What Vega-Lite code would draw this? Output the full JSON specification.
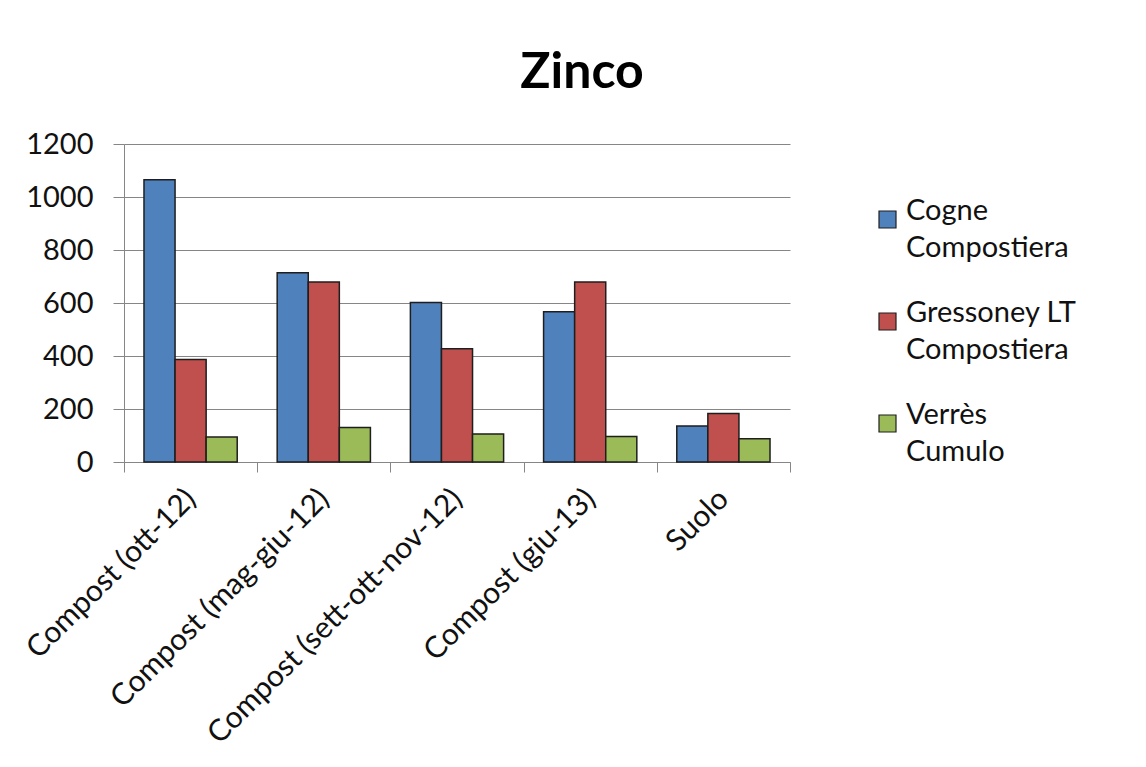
{
  "$schema": "https://vega.github.io/schema/vega-lite/v6.json",
  "autosize": {"type": "none"},
  "padding": {"left": 124, "top": 144, "right": 356, "bottom": 305},
  "width": 666,
  "height": 318,
  "background": "white",
  "title": {
    "text": "Zinco",
    "font": "Lato",
    "fontSize": 50,
    "fontWeight": "bold",
    "color": "#000000",
    "anchor": "middle",
    "dx": 125,
    "offset": -8,
    "baseline": "alphabetic"
  },
  "data": {
    "values": [
      {"campione": "Compost (ott-12)", "serie": "Cogne Compostiera", "valore": 1065},
      {"campione": "Compost (ott-12)", "serie": "Gressoney LT Compostiera", "valore": 387},
      {"campione": "Compost (ott-12)", "serie": "Verrès Cumulo", "valore": 94},
      {"campione": "Compost (mag-giu-12)", "serie": "Cogne Compostiera", "valore": 714},
      {"campione": "Compost (mag-giu-12)", "serie": "Gressoney LT Compostiera", "valore": 679},
      {"campione": "Compost (mag-giu-12)", "serie": "Verrès Cumulo", "valore": 130},
      {"campione": "Compost (sett-ott-nov-12)", "serie": "Cogne Compostiera", "valore": 602},
      {"campione": "Compost (sett-ott-nov-12)", "serie": "Gressoney LT Compostiera", "valore": 427},
      {"campione": "Compost (sett-ott-nov-12)", "serie": "Verrès Cumulo", "valore": 106},
      {"campione": "Compost (giu-13)", "serie": "Cogne Compostiera", "valore": 567},
      {"campione": "Compost (giu-13)", "serie": "Gressoney LT Compostiera", "valore": 679},
      {"campione": "Compost (giu-13)", "serie": "Verrès Cumulo", "valore": 96},
      {"campione": "Suolo", "serie": "Cogne Compostiera", "valore": 136},
      {"campione": "Suolo", "serie": "Gressoney LT Compostiera", "valore": 183},
      {"campione": "Suolo", "serie": "Verrès Cumulo", "valore": 88}
    ]
  },
  "mark": {"type": "bar", "stroke": "#1e1e1e", "strokeWidth": 1.5},
  "encoding": {
    "x": {
      "field": "campione",
      "type": "nominal",
      "sort": null,
      "scale": {"paddingInner": 0, "paddingOuter": 0},
      "axis": {
        "title": null,
        "labelAngle": -45,
        "labelAlign": "right",
        "labelBaseline": "middle",
        "labelFont": "Lato",
        "labelFontSize": 30,
        "labelColor": "#111111",
        "labelPadding": 22,
        "tickBand": "extent",
        "tickSize": 10,
        "tickColor": "#868686",
        "domainColor": "#868686",
        "labelLimit": 0
      }
    },
    "xOffset": {"field": "serie", "type": "nominal", "scale": {"paddingInner": 0, "paddingOuter": 0.643}},
    "y": {
      "field": "valore",
      "type": "quantitative",
      "scale": {"domain": [0, 1200], "nice": false},
      "axis": {
        "title": null,
        "values": [0, 200, 400, 600, 800, 1000, 1200],
        "format": "d",
        "labelFont": "Lato",
        "labelFontSize": 29,
        "labelColor": "#111111",
        "labelPadding": 20,
        "tickSize": 11,
        "tickColor": "#868686",
        "domainColor": "#868686",
        "gridColor": "#868686",
        "gridWidth": 1
      }
    },
    "color": {
      "field": "serie",
      "type": "nominal",
      "scale": {
        "domain": ["Cogne Compostiera", "Gressoney LT Compostiera", "Verrès Cumulo"],
        "range": ["#4F81BD", "#C0504D", "#9BBB59"]
      },
      "legend": {
        "title": null,
        "orient": "none",
        "legendX": 749,
        "legendY": 61,
        "symbolType": "square",
        "symbolSize": 289,
        "symbolStrokeColor": "#1e1e1e",
        "symbolStrokeWidth": 1.2,
        "symbolOpacity": 1,
        "labelFont": "Lato",
        "labelFontSize": 29,
        "labelColor": "#111111",
        "labelBaseline": "alphabetic",
        "labelOffset": 4,
        "rowPadding": 35,
        "labelLimit": 0,
        "labelExpr": "datum.label == 'Gressoney LT Compostiera' ? ['Gressoney LT', 'Compostiera'] : split(datum.label, ' ')",
        "encode": {"labels": {"update": {"lineHeight": {"value": 37}}}}
      }
    }
  },
  "config": {"view": {"stroke": null}}
}
